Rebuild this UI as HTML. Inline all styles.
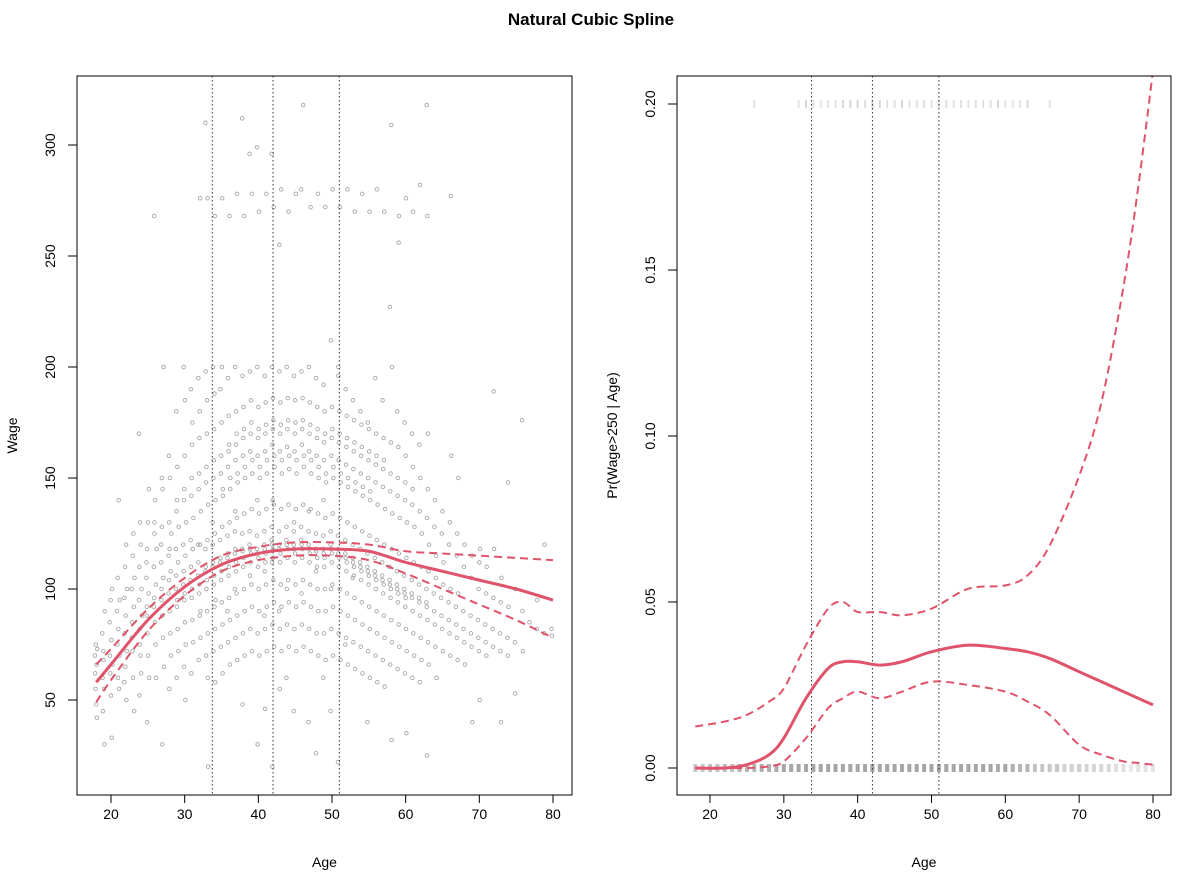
<!DOCTYPE html>
<html><head><meta charset="utf-8"><style>
body{margin:0;background:#fff}
svg{display:block;font-family:"Liberation Sans",sans-serif}
</style></head><body>
<svg id="c" width="1182" height="878" viewBox="0 0 1182 878">
<text x="591" y="25" text-anchor="middle" font-size="17" font-weight="bold">Natural Cubic Spline</text>
</svg>
<script>
const groups = [
[18,[70,62,55,75,48,66,42,73]],
[19,[80,60,45,72,68,55,30,90]],
[20,[85,70,62,95,52,77,33,100,66]],
[21,[90,75,105,60,82,140,55,70,95]],
[22,[96,80,110,65,88,120,50,72,100,58]],
[23,[100,85,72,115,60,125,92,45,105,78]],
[24,[95,110,82,130,70,120,62,100,88,170,52,75]],
[25,[105,92,118,80,130,70,98,145,60,112,88,40]],
[26,[110,96,125,85,140,75,102,60,118,92,268,130]],
[27,[112,100,128,88,145,78,105,200,65,120,95,150,30]],
[28,[115,104,130,90,150,80,108,70,125,98,160,55,118]],
[29,[118,106,135,92,155,82,112,72,128,100,180,60,140,95]],
[30,[120,108,140,95,160,85,115,75,130,102,200,65,145,98,185,50]],
[31,[122,110,142,96,165,86,118,76,132,104,190,62,150,100,175,118]],
[32,[120,112,145,98,168,88,120,78,135,106,195,68,152,102,180,276,90]],
[33,[118,110,148,100,170,90,122,80,138,108,198,70,155,104,185,276,60,20,310]],
[34,[120,112,150,102,172,92,125,82,140,110,200,72,158,106,188,268,58,95,130]],
[35,[122,114,152,104,175,94,128,84,142,112,190,74,160,108,200,276,62,145]],
[36,[124,116,155,106,178,96,130,86,145,114,195,76,162,110,165,268,66,150,90]],
[37,[126,118,158,108,180,98,132,88,148,116,200,78,165,112,170,278,68,152,100,135]],
[38,[125,117,160,110,182,100,134,90,150,118,196,80,168,114,172,268,70,155,312,48]],
[39,[126,118,162,112,185,102,136,92,152,120,198,82,170,116,175,278,72,158,296,106]],
[40,[124,116,160,110,182,100,134,90,150,118,200,80,168,114,172,270,70,155,299,140,30]],
[41,[126,118,162,112,184,102,136,92,152,120,196,82,170,116,174,278,72,158,88,108,46]],
[42,[128,120,165,114,186,104,138,94,155,122,200,84,172,118,176,272,74,160,296,112,20,140]],
[43,[126,118,162,112,184,102,136,92,152,120,198,82,170,116,174,280,72,158,90,255,55]],
[44,[128,120,164,114,186,104,138,94,154,122,200,84,172,118,176,270,74,160,60,100]],
[45,[126,118,162,112,185,102,136,92,152,120,196,82,170,116,175,278,72,158,45,130]],
[46,[128,120,165,114,186,104,138,94,155,122,198,84,172,118,176,318,74,160,280,98]],
[47,[126,118,162,112,184,102,136,92,152,120,200,82,170,116,174,272,72,158,40,135]],
[48,[125,117,160,110,182,100,134,90,150,118,195,80,168,114,172,278,70,155,26,108]],
[49,[124,116,158,110,180,100,132,90,148,118,192,80,166,114,170,272,68,152,60,140]],
[50,[126,118,160,112,182,102,134,92,150,120,212,82,168,116,172,280,70,155,45,100]],
[51,[124,116,158,110,180,100,132,90,148,118,196,80,166,114,170,272,68,152,22,200]],
[52,[122,114,156,108,178,98,130,88,146,116,190,78,164,112,168,280,66,150,75]],
[53,[120,112,154,106,176,96,128,86,144,114,185,76,162,110,166,270,64,148,105]],
[54,[118,110,152,104,174,94,126,84,142,112,180,74,160,108,164,278,62,146]],
[55,[116,108,150,102,172,92,124,82,140,110,175,72,158,106,162,270,60,144,40]],
[56,[114,106,148,100,170,90,122,80,138,108,195,70,156,104,160,280,58]],
[57,[112,104,146,98,168,88,120,78,136,106,185,68,154,102,158,270,56]],
[58,[110,102,144,96,166,86,118,76,134,104,227,66,152,100,309,32,200]],
[59,[108,100,142,94,164,84,116,74,132,102,180,64,150,98,256,268]],
[60,[106,98,140,92,160,82,114,72,130,100,175,62,148,96,276,35]],
[61,[104,96,138,90,155,80,112,70,128,98,170,60,145,270]],
[62,[102,94,135,88,150,78,110,68,125,96,165,58,282]],
[63,[100,92,132,86,145,76,108,66,120,94,318,25,268,170]],
[64,[98,90,128,84,140,74,105,115,60]],
[65,[96,88,125,82,135,72,102,112]],
[66,[94,86,120,80,130,70,100,277,160]],
[67,[92,84,115,78,125,68,98,150]],
[68,[90,82,110,76,120,66]],
[69,[88,80,105,74,115,40]],
[70,[86,78,100,72,112,50,118]],
[71,[84,76,98,70,110]],
[72,[82,74,96,189,118]],
[73,[80,72,94,40,105]],
[74,[78,70,148,92]],
[75,[76,53,100]],
[76,[176,90,72]],
[77,[85]],
[78,[82,95]],
[79,[80,120]],
[80,[82,79]]
];
const knots = [33.75, 42, 51];
const xTicks = [20,30,40,50,60,70,80];
const wageTicks = [50,100,150,200,250,300];
const probTicks = [0,0.05,0.10,0.15,0.20];
const probTickLabels = ["0.00","0.05","0.10","0.15","0.20"];
const fitAges = [18,20,25,30,35,40,45,50,55,60,65,70,75,80];
const wageFit = [58,66,86,101,111,116,118,118,117,112,108,104,100,95];
const wageUpper = [66,73,91,105,115,119,121,121,120,117,116,115,114,113];
const wageLower = [49,59,81,97,108,113,115,115,113,107,100,93,86,78];
const pAges = [18,22,25,28,30,33,36,38,40,43,46,50,55,60,63,66,70,73,76,78,80];
const probFit = [0,0,0.001,0.004,0.009,0.021,0.030,0.032,0.032,0.031,0.032,0.035,0.037,0.036,0.035,0.033,0.029,0.026,0.023,0.021,0.019];
const probUpper = [0.0125,0.014,0.016,0.020,0.024,0.037,0.048,0.050,0.047,0.047,0.046,0.048,0.054,0.055,0.058,0.067,0.088,0.110,0.145,0.175,0.21];
const probLower = [0,0,0,0.0005,0.002,0.009,0.018,0.021,0.023,0.021,0.023,0.026,0.025,0.023,0.020,0.016,0.007,0.004,0.002,0.0015,0.001];

const NS="http://www.w3.org/2000/svg";
const svg=document.getElementById('c');
const RED="#DF536B";
function mk(tag,attrs,parent){const e=document.createElementNS(NS,tag);for(const k in attrs)e.setAttribute(k,attrs[k]);(parent||svg).appendChild(e);return e;}
function smooth(pts){let d="M"+pts[0][0]+","+pts[0][1];for(let i=0;i<pts.length-1;i++){const p0=pts[i-1]||pts[i],p1=pts[i],p2=pts[i+1],p3=pts[i+2]||p2;const c1x=p1[0]+(p2[0]-p0[0])/6,c1y=p1[1]+(p2[1]-p0[1])/6,c2x=p2[0]-(p3[0]-p1[0])/6,c2y=p2[1]-(p3[1]-p1[1])/6;d+=` C${c1x},${c1y} ${c2x},${c2y} ${p2[0]},${p2[1]}`;}return d;}

function panel(cfg){
  const g=mk('g',{});
  
  
  const X=a=>cfg.x0+(a-20)*(cfg.x1-cfg.x0)/60;
  const Y=v=>cfg.y0+(v-cfg.v0)*(cfg.y1-cfg.y0)/(cfg.v1-cfg.v0);
  const clip=mk('clipPath',{id:cfg.name+'-clip'},g);
  mk('rect',{x:cfg.L,y:cfg.T,width:cfg.R-cfg.L,height:cfg.B-cfg.T},clip);
  const inner=mk('g',{'clip-path':`url(#${cfg.name}-clip)`},g);
  cfg.drawData(inner,X,Y);
  knots.forEach(k=>{const l=mk('line',{x1:X(k),x2:X(k),y1:cfg.T,y2:cfg.B,stroke:'#333','stroke-width':1,'stroke-dasharray':'1.5,2.5'},inner);
    
    });
  [[cfg.upper,true],[cfg.lower,true],[cfg.fit,false]].forEach(([s,dash])=>{
    const p=mk('path',{d:smooth(cfg.ages.map((a,i)=>[X(a),Y(s[i])])),fill:'none',stroke:RED,'stroke-width':dash?2:3,'stroke-dasharray':dash?'8,5':'none'},inner);
    
    
  });
  const box=mk('rect',{x:cfg.L,y:cfg.T,width:cfg.R-cfg.L,height:cfg.B-cfg.T,fill:'none',stroke:'#000','stroke-width':1},g);
  
  
  xTicks.forEach(t=>{mk('line',{x1:X(t),x2:X(t),y1:cfg.B,y2:cfg.B+8,stroke:'#000'},g);
    const tx=mk('text',{x:X(t),y:cfg.B+24,'text-anchor':'middle','font-size':14},g);tx.textContent=t;
    
    });
  cfg.yt.forEach((t,i)=>{mk('line',{x1:cfg.L-9,x2:cfg.L,y1:Y(t),y2:Y(t),stroke:'#000'},g);
    const bx=cfg.L-22;
    const tx=mk('text',{x:bx,y:Y(t),'text-anchor':'middle','font-size':14,transform:`rotate(-90 ${bx} ${Y(t)})`},g);tx.textContent=cfg.ytl[i];
    
    });
  const xl=mk('text',{x:(cfg.L+cfg.R)/2,y:867,'text-anchor':'middle','font-size':14},g);xl.textContent='Age';
  
  
  const yx=cfg.L-60;
  const yl=mk('text',{x:yx,y:(cfg.T+cfg.B)/2,'text-anchor':'middle','font-size':14,transform:`rotate(-90 ${yx} ${(cfg.T+cfg.B)/2})`},g);yl.textContent=cfg.ylab;
  
  
}

panel({name:'wage-panel',L:77,R:572,T:76,B:795,x0:111,x1:553,y0:700,y1:145,v0:50,v1:300,
  yt:wageTicks,ytl:wageTicks.map(String),ylab:'Wage',ages:fitAges,fit:wageFit,upper:wageUpper,lower:wageLower,
  drawData:(g,X,Y)=>{groups.forEach(([a,ws])=>ws.forEach((w,j)=>{
    const c=mk('circle',{cx:X(a)+((j*37)%9-4)*0.35,cy:Y(w),r:1.8,fill:'none',stroke:'#a8a8a8','stroke-width':0.9},g);
    
    }));}
});
panel({name:'probability-panel',L:677,R:1171,T:76,B:795,x0:710,x1:1153,y0:768,y1:104,v0:0,v1:0.2,
  yt:probTicks,ytl:probTickLabels,ylab:'Pr(Wage>250 | Age)',ages:pAges,fit:probFit,upper:probUpper,lower:probLower,
  drawData:(g,X,Y)=>{groups.forEach(([a,ws])=>{
    const hi=ws.filter(w=>w>250).length, lo=ws.length-hi;
    if(lo>0){const r=mk('line',{x1:X(a),x2:X(a),y1:Y(0)-4,y2:Y(0)+4,stroke:'#888','stroke-width':4,'stroke-opacity':Math.min(0.75,0.15+lo*0.04)},g);
      
      }
    if(hi>0){const r=mk('line',{x1:X(a),x2:X(a),y1:Y(0.2)-4,y2:Y(0.2)+4,stroke:'#888','stroke-width':2,'stroke-opacity':Math.min(0.5,0.15+hi*0.1)},g);
      
      }
  });}
});
</script>
</body></html>
